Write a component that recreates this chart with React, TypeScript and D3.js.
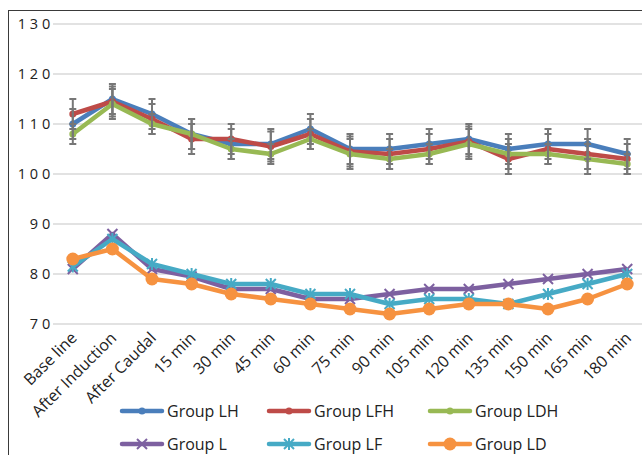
import React from "react";
import * as d3 from "d3";

const categories = ["Base line", "After Induction", "After Caudal", "15 min", "30 min", "45 min", "60 min", "75 min", "90 min", "105 min", "120 min", "135 min", "150 min", "165 min", "180 min"];
const yTicks = [70, 80, 90, 100, 110, 120, 130];

const groupLH = [110, 115, 112, 108, 106, 106, 109, 105, 105, 106, 107, 105, 106, 106, 104];
const groupLFH = [112, 114.5, 111, 107, 107, 105.5, 108, 104.5, 104, 105, 106.5, 103, 105, 104, 103];
const groupLDH = [108, 114, 110, 108, 105, 104, 107, 104, 103, 104, 106, 104, 104, 103, 102];
const groupL = [81, 88, 81, 79.5, 77, 77, 75, 75, 76, 77, 77, 78, 79, 80, 81];
const groupLF = [81.5, 87, 82, 80, 78, 78, 76, 76, 74, 75, 75, 74, 76, 78, 80];
const groupLD = [83, 85, 79, 78, 76, 75, 74, 73, 72, 73, 74, 74, 73, 75, 78];

const errLH = [3, 3, 3, 3, 3, 3, 3, 3, 3, 3, 3, 3, 3, 3, 3];
const errLFH = [3, 3, 3, 3, 3, 3, 3, 3, 3, 3, 3, 3, 3, 3, 3];
const errLDH = [2, 3, 2, 3, 2, 2, 2, 3, 2, 2, 3, 3, 2, 3, 2];

const seriesNames = ["Group LH", "Group LFH", "Group LDH", "Group L", "Group LF", "Group LD"];
const seriesColors = ["#4a7ebb", "#be4b48", "#98b954", "#7d60a0", "#46aac5", "#f69240"];
const seriesMarkers = ["diamond", "diamond", "diamond", "x", "star", "circle"];

const FONT = "'Open Sans', 'Noto Sans', sans-serif";

function Marker({ type, x, y, color }: { type: string; x: number; y: number; color: string }) {
  if (type === "diamond") {
    return <circle cx={x} cy={y} r={3.5} fill={color} />;
  }
  if (type === "circle") {
    return <circle cx={x} cy={y} r={6.5} fill={color} />;
  }
  const s = 5;
  return (
    <g stroke={color} strokeWidth={2}>
      <line x1={x - s} y1={y - s} x2={x + s} y2={y + s} />
      <line x1={x - s} y1={y + s} x2={x + s} y2={y - s} />
      {type === "star" && <line x1={x} y1={y - s - 1} x2={x} y2={y + s + 1} />}
    </g>
  );
}

export default function App() {
  const W = 642, H = 455;
  const plotLeft = 53, plotRight = 647;
  const x = d3.scaleBand<string>().domain(categories).range([plotLeft, plotRight]);
  const cx = (c: string) => (x(c) as number) + x.bandwidth() / 2;
  const y = d3.scaleLinear().domain([70, 130]).range([324, 24]);

  const data = [groupLH, groupLFH, groupLDH, groupL, groupLF, groupLD];
  const errs = [errLH, errLFH, errLDH];
  const line = d3.line<number>().x((_, i) => cx(categories[i])).y((v) => y(v));

  const legendCols = [122, 269, 430];
  const legendRows = [411, 444];

  return (
    <svg width={W} height={H} style={{ position: "absolute", left: 0, top: 0, background: "#fff" }} fontFamily={FONT}>
      <rect x={8.5} y={10.5} width={W + 20} height={H + 20} fill="none" stroke="#3a3a3a" strokeWidth={1} />
      {yTicks.map((t) => (
        <g key={t}>
          <line x1={plotLeft} x2={plotRight} y1={y(t)} y2={y(t)} stroke="#d9d9d9" strokeWidth={1.6} />
          <text x={54} y={y(t)} dy="0.35em" textAnchor="end" fontSize={14.5} style={{ letterSpacing: "3.8px" }} fill="#222">
            {t}
          </text>
        </g>
      ))}
      {categories.map((c) => (
        <text
          key={c}
          transform={`translate(${cx(c) + 5},${339}) rotate(-45)`}
          textAnchor="end"
          fontSize={16}
          fill="#222"
        >
          {c}
        </text>
      ))}
      {data.map((d, si) => (
        <g key={si}>
          <path d={line(d) || ""} fill="none" stroke={seriesColors[si]} strokeWidth={4.5} strokeLinejoin="round" />
          {d.map((v, i) => (
            <Marker key={i} type={seriesMarkers[si]} x={cx(categories[i])} y={y(v)} color={seriesColors[si]} />
          ))}
        </g>
      ))}
      {errs.map((e, si) =>
        e.map((ev, i) => {
          const v = data[si][i];
          const px = cx(categories[i]);
          return (
            <g key={`${si}-${i}`} stroke="#777" strokeWidth={2}>
              <line x1={px} x2={px} y1={y(v + ev)} y2={y(v - ev)} />
              <line x1={px - 3.5} x2={px + 3.5} y1={y(v + ev)} y2={y(v + ev)} />
              <line x1={px - 3.5} x2={px + 3.5} y1={y(v - ev)} y2={y(v - ev)} />
            </g>
          );
        })
      )}
      {seriesNames.map((n, si) => {
        const lx = legendCols[si % 3];
        const ly = legendRows[Math.floor(si / 3)];
        return (
          <g key={n}>
            <line x1={lx} x2={lx + 40} y1={ly} y2={ly} stroke={seriesColors[si]} strokeWidth={4.5} strokeLinecap="round" />
            <Marker type={seriesMarkers[si]} x={lx + 20} y={ly} color={seriesColors[si]} />
            <text x={lx + 45} y={ly} dy="0.35em" fontSize={16} fill="#222">
              {n}
            </text>
          </g>
        );
      })}
    </svg>
  );
}
